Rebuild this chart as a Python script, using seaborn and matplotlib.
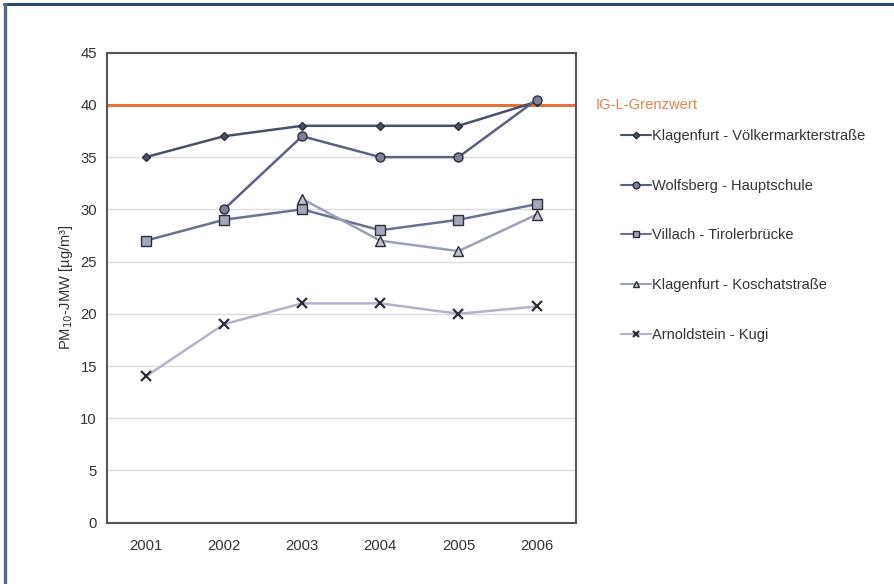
import numpy as np
import pandas as pd
import matplotlib
matplotlib.use("Agg")
import matplotlib.pyplot as plt
from matplotlib.lines import Line2D
import seaborn as sns

years = ["2001", "2002", "2003", "2004", "2005", "2006"]
stations = [
    "Klagenfurt - Völkermarkterstraße",
    "Wolfsberg - Hauptschule",
    "Villach - Tirolerbrücke",
    "Klagenfurt - Koschatstraße",
    "Arnoldstein - Kugi",
]
klagenfurt_voelkermarkter = [35, 37, 38, 38, 38, 40.3]
wolfsberg_hauptschule = [np.nan, 30, 37, 35, 35, 40.5]
villach_tirolerbruecke = [27, 29, 30, 28, 29, 30.5]
klagenfurt_koschat = [np.nan, np.nan, 31, 27, 26, 29.5]
arnoldstein_kugi = [14, 19, 21, 21, 20, 20.7]
limit_value = 40
limit_label = "IG-L-Grenzwert"
y_ticks = [0, 5, 10, 15, 20, 25, 30, 35, 40, 45]

series = [klagenfurt_voelkermarkter, wolfsberg_hauptschule, villach_tirolerbruecke,
          klagenfurt_koschat, arnoldstein_kugi]

sns.set_theme(style="white")
plt.rcParams["font.family"] = ["Liberation Sans", "DejaVu Sans"]

line_colors = ["#4b5069", "#5b6180", "#6b7190", "#9c9fb8", "#b3b3cc"]
marker_faces = ["#4b5069", "#7d8299", "#a3a7ba", "#c0c2d0", "#333340"]
markers = ["D", "o", "s", "^", "x"]
msizes = [4.5, 6.5, 6.5, 6.5, 6.5]

fig = plt.figure(figsize=(8.94, 5.84), dpi=100)
ax = fig.add_axes([0.1193, 0.105, 0.5247, 0.8048])

x_idx = np.arange(len(years))
for name, vals, lc, mf, mk, ms in zip(stations, series, line_colors, marker_faces, markers, msizes):
    df = pd.DataFrame({"x": x_idx, "y": vals}).dropna()
    sns.lineplot(data=df, x="x", y="y", ax=ax, color=lc, linewidth=1.8,
                 marker=mk, markersize=ms, markerfacecolor=mf,
                 markeredgecolor="#2e2e3a", markeredgewidth=1.0 if mk != "x" else 1.6,
                 label=name, zorder=3)

ax.axhline(limit_value, color="#e2733a", linewidth=2.2, zorder=2)

ax.set_xlim(-0.5, len(years) - 0.5)
ax.set_ylim(0, 45)
ax.set_yticks(y_ticks)
ax.set_yticklabels([str(t) for t in y_ticks], fontsize=10.7, color="#333333")
ax.set_xticks(x_idx)
ax.set_xticklabels(years, fontsize=10.7, color="#333333")
ax.set_xticks(np.arange(-0.5, len(years)), minor=True)
ax.tick_params(axis="x", which="major", length=0, pad=12)
ax.tick_params(axis="x", which="minor", length=4, color="#999999", width=1)
ax.tick_params(axis="y", which="major", length=4, color="#999999", width=1, pad=3)
ax.grid(axis="y", color="#dcdcdc", linewidth=1)
ax.set_axisbelow(True)
for sp in ax.spines.values():
    sp.set_color("#555555")
    sp.set_linewidth(1.5)

ax.set_xlabel("")
ax.set_ylabel("PM$_{10}$-JMW [µg/m³]", fontsize=10.6, color="#333333", labelpad=4)

ax.text(1.042, limit_value, limit_label, transform=ax.get_yaxis_transform(),
        color="#e8804a", fontsize=10.6, va="center", ha="left")

leg = ax.legend(loc="upper left", bbox_to_anchor=(1.085, 0.85), frameon=False,
                fontsize=10.5, labelspacing=2.45, handlelength=2.0, handletextpad=0.1,
                borderaxespad=0)
for t in leg.get_texts():
    t.set_color("#333333")
for h in leg.legend_handles:
    h.set_linewidth(1.5)
    h.set_markersize(h.get_markersize() * 0.75)

# frame strokes along top and left edges
fig.add_artist(Line2D([0.005, 1.0], [0.9935, 0.9935], transform=fig.transFigure,
                      color="#2d4a6e", linewidth=2.2))
fig.add_artist(Line2D([0.0055, 0.0055], [0.0, 0.9935], transform=fig.transFigure,
                      color="#4f6a8a", linewidth=2.4))

fig.savefig("out.png", dpi=100)
